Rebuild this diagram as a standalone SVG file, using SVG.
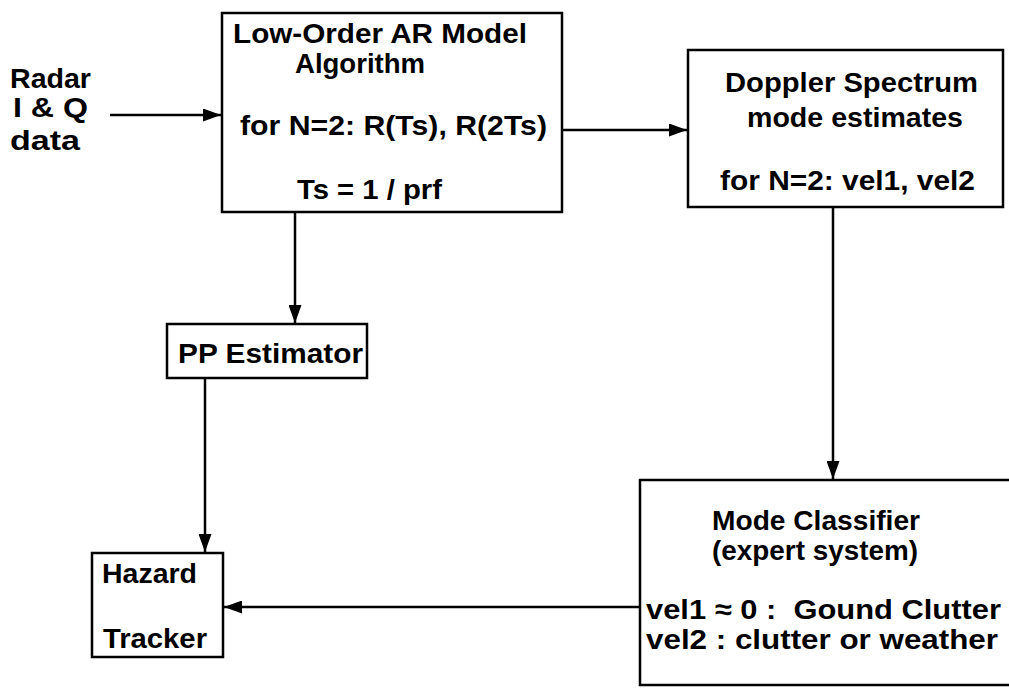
<svg xmlns="http://www.w3.org/2000/svg" width="1009" height="690" viewBox="0 0 1009 690">
<style>
.box{fill:#fff;stroke:#000;stroke-width:2.5}
.t{font-family:"Liberation Sans",Arial,sans-serif;font-weight:bold;font-size:28px;fill:#000;white-space:pre}
.c{fill:none;stroke:#000;stroke-width:2.5}
</style>
<defs>
<marker id="ah" markerUnits="userSpaceOnUse" markerWidth="19" markerHeight="13" refX="18" refY="6.5" orient="auto">
<path d="M0,0 L18,6.5 L0,13 z" fill="#000"/>
</marker>
</defs>
<rect width="1009" height="690" fill="#fff"/>
<g id="connectors">
<line class="c" x1="110" y1="115" x2="221" y2="115" marker-end="url(#ah)"/>
<line class="c" x1="562" y1="130" x2="687" y2="130" marker-end="url(#ah)"/>
<line class="c" x1="295" y1="212" x2="295" y2="323" marker-end="url(#ah)"/>
<line class="c" x1="205" y1="378" x2="205" y2="552" marker-end="url(#ah)"/>
<line class="c" x1="833" y1="207" x2="833" y2="479" marker-end="url(#ah)"/>
<line class="c" x1="640" y1="607" x2="224" y2="607" marker-end="url(#ah)"/>
</g>
<g id="input">
<text class="t" x="10" y="88" textLength="81" lengthAdjust="spacingAndGlyphs">Radar</text>
<text class="t" x="13" y="117" textLength="75" lengthAdjust="spacingAndGlyphs">I &amp; Q</text>
<text class="t" x="10" y="150" textLength="70" lengthAdjust="spacingAndGlyphs">data</text>
</g>
<g id="ar-model">
<rect class="box" x="222" y="13" width="340" height="199"/>
<text class="t" x="233" y="43" textLength="294" lengthAdjust="spacingAndGlyphs">Low-Order AR Model</text>
<text class="t" x="295" y="73" textLength="130" lengthAdjust="spacingAndGlyphs">Algorithm</text>
<text class="t" x="240" y="135" textLength="307" lengthAdjust="spacingAndGlyphs">for N=2: R(Ts), R(2Ts)</text>
<text class="t" x="297" y="199" textLength="145" lengthAdjust="spacingAndGlyphs">Ts = 1 / prf</text>
</g>
<g id="doppler">
<rect class="box" x="688" y="50" width="315" height="157"/>
<text class="t" x="725" y="92" textLength="253" lengthAdjust="spacingAndGlyphs">Doppler Spectrum</text>
<text class="t" x="747" y="127" textLength="216" lengthAdjust="spacingAndGlyphs">mode estimates</text>
<text class="t" x="720" y="190" textLength="255" lengthAdjust="spacingAndGlyphs">for N=2: vel1, vel2</text>
</g>
<g id="pp-estimator">
<rect class="box" x="167" y="324" width="200" height="54"/>
<text class="t" x="178" y="363" textLength="185" lengthAdjust="spacingAndGlyphs">PP Estimator</text>
</g>
<g id="hazard-tracker">
<rect class="box" x="92" y="553" width="131" height="104"/>
<text class="t" x="102" y="583" textLength="95" lengthAdjust="spacingAndGlyphs">Hazard</text>
<text class="t" x="103" y="648" textLength="104" lengthAdjust="spacingAndGlyphs">Tracker</text>
</g>
<g id="mode-classifier">
<rect class="box" x="640" y="480" width="390" height="205"/>
<text class="t" x="712" y="530" textLength="208" lengthAdjust="spacingAndGlyphs">Mode Classifier</text>
<text class="t" x="712" y="560" textLength="206" lengthAdjust="spacingAndGlyphs">(expert system)</text>
<text class="t" x="646" y="619" textLength="355" lengthAdjust="spacingAndGlyphs">vel1 ≈ 0 :  Gound Clutter</text>
<text class="t" x="646" y="649" textLength="352" lengthAdjust="spacingAndGlyphs">vel2 : clutter or weather</text>
</g>
</svg>
